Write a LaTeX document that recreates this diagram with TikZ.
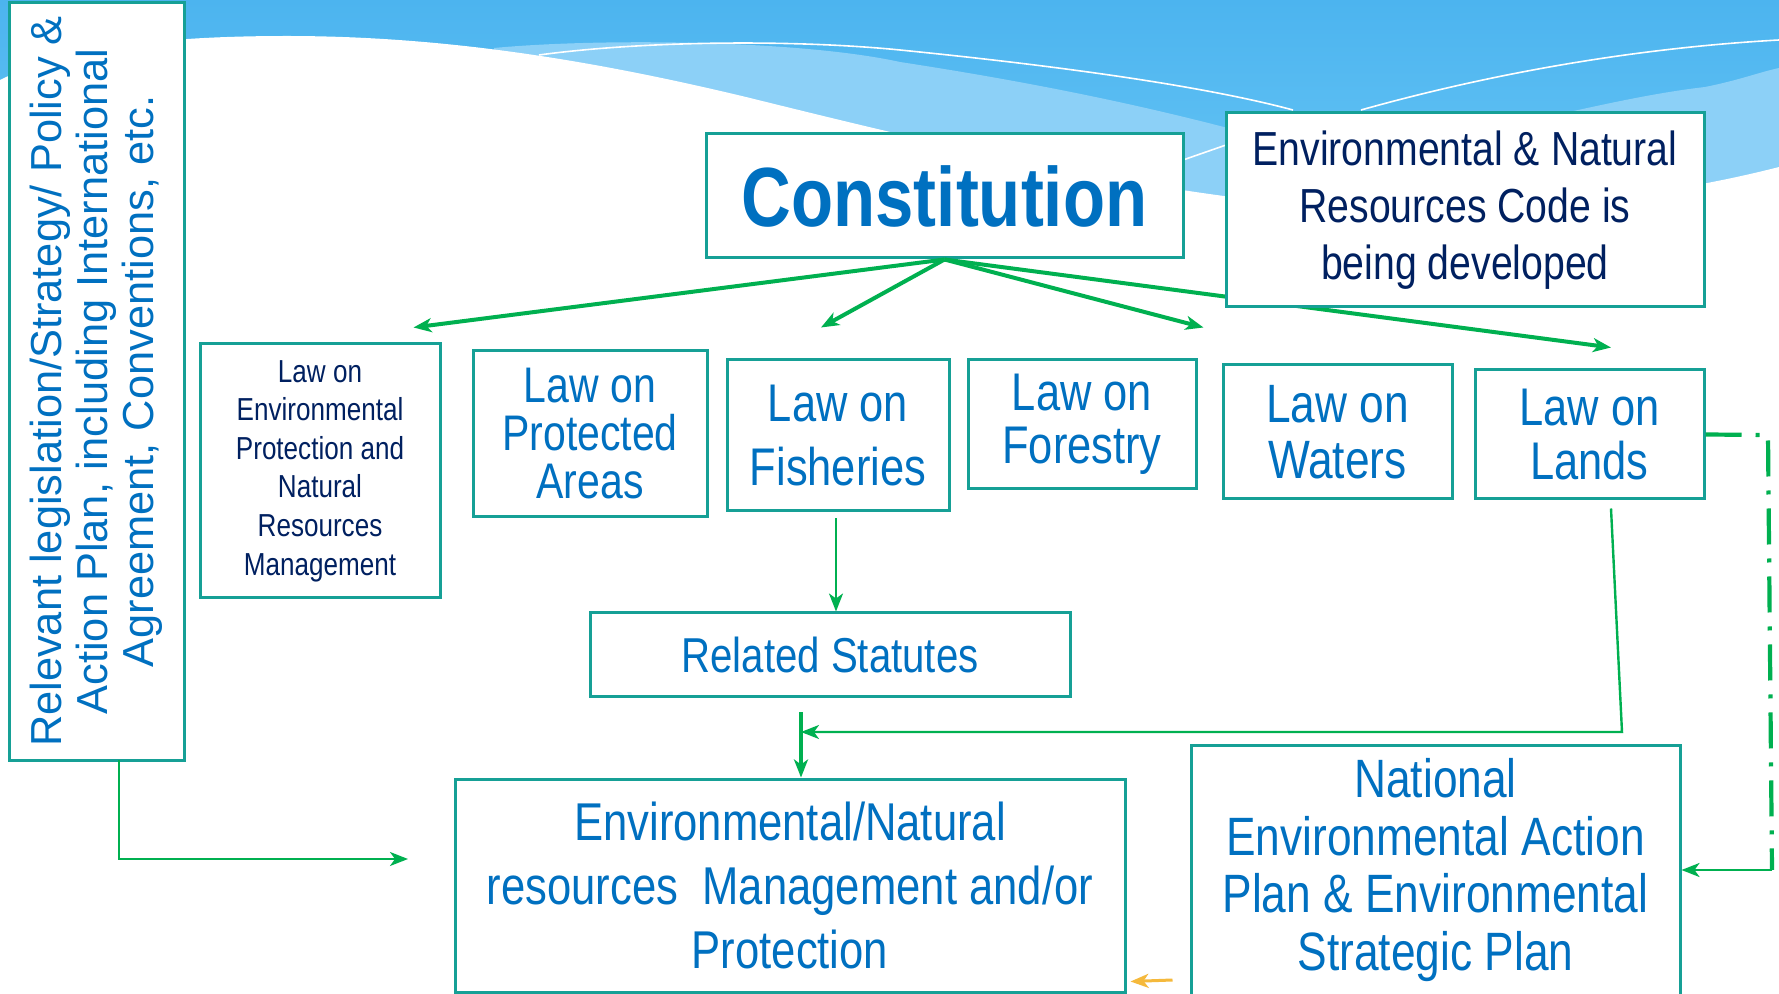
\documentclass[tikz,border=0pt]{standalone}
\usepackage{fontspec}
\setmainfont{Liberation Sans}
\newfontfamily\narrowsf[FakeStretch=0.82]{Liberation Sans}
\usepackage{xcolor}
\usetikzlibrary{arrows.meta}

\definecolor{boxteal}{RGB}{22,160,150}
\definecolor{txtblue}{RGB}{0,112,192}
\definecolor{navy}{RGB}{0,32,96}
\definecolor{arrgreen}{RGB}{0,176,80}
\definecolor{arrorange}{RGB}{245,185,60}
\definecolor{skytop}{RGB}{76,180,239}
\definecolor{skylow}{RGB}{104,198,246}
\definecolor{skylight}{RGB}{140,208,247}

\tikzset{
  lawbox/.style={draw=boxteal, line width=1.5pt, fill=white, align=center,
    text=txtblue, inner sep=0pt, font=\narrowsf},
  link/.style={arrgreen, line width=1.2pt, -{Stealth[length=9pt,width=7pt,inset=2.5pt]}},
}

\begin{document}
\begin{tikzpicture}[x=0.5pt, y=-0.5pt]
  \useasboundingbox (0,0) rectangle (1779,994);

  % sky and waves
  \shade[top color=skytop, bottom color=skylow] (0,0) rectangle (1779,240);
  \fill[skylight] (494,48) .. controls (600,38) and (800,40) .. (900,62)
    .. controls (1050,85) and (1150,108) .. (1224,127)
    .. controls (1400,175) and (1550,105) .. (1705,87)
    .. controls (1740,80) and (1760,72) .. (1779,68) -- (1779,240) -- (494,240) -- cycle;
  \fill[white] (0,80) .. controls (60,50) and (150,36) .. (287,36)
    .. controls (450,36) and (600,62) .. (746,97)
    .. controls (900,135) and (1100,185) .. (1300,205)
    .. controls (1500,215) and (1650,200) .. (1779,167) -- (1779,994) -- (0,994) -- cycle;
  \draw[white, line width=0.8pt] (539,55) .. controls (650,40) and (800,40) .. (900,50)
    .. controls (1050,65) and (1200,85) .. (1293,110);
  \draw[white, line width=0.8pt] (1361,110) .. controls (1450,85) and (1600,50) .. (1779,40);
  \draw[white, line width=0.8pt] (1226,145) -- (1183,160);

  \node[lawbox, rotate=90, minimum width=378.5pt, minimum height=87.5pt,
    font=\fontsize{21.7}{23}\selectfont] (policy) at (96.5,381.5)
    {Relevant legislation/Strategy/ Policy \&\\Action Plan, including International\\Agreement, Conventions, etc.};

  \node[lawbox, minimum width=238.5pt, minimum height=62pt,
    font=\narrowsf\bfseries\fontsize{42}{46}\selectfont] (const) at (944.5,196) {Constitution};

  \node[lawbox, text=navy, minimum width=120pt, minimum height=127pt,
    font=\narrowsf\fontsize{15.9}{19.3}\selectfont] (envprot) at (320,471)
    {Law on\\Environmental\\Protection and\\Natural\\Resources\\Management};
  \node[lawbox, minimum width=117pt, minimum height=83pt,
    font=\narrowsf\fontsize{25}{24}\selectfont] (protected) at (590,434) {Law on\\Protected\\Areas};
  \node[lawbox, minimum width=111pt, minimum height=75.5pt,
    font=\narrowsf\fontsize{26.5}{32}\selectfont] (fisheries) at (838,435.5) {Law on\\Fisheries};
  \node[lawbox, minimum width=114pt, minimum height=64.5pt,
    font=\narrowsf\fontsize{26.5}{26.5}\selectfont] (forestry) at (1082,424.5) {Law on\\Forestry};
  \node[lawbox, minimum width=114.5pt, minimum height=67pt,
    font=\narrowsf\fontsize{27}{28}\selectfont] (waters) at (1337.5,432) {Law on\\Waters};
  \node[lawbox, minimum width=114.5pt, minimum height=64.5pt,
    font=\narrowsf\fontsize{26.5}{27}\selectfont] (lands) at (1589.5,434.5) {Law on\\Lands};

  \node[lawbox, minimum width=240pt, minimum height=41.5pt,
    font=\narrowsf\fontsize{24.5}{28}\selectfont] (statutes) at (830,654.5) {Related Statutes};
  \node[lawbox, minimum width=335pt, minimum height=106.5pt,
    font=\narrowsf\fontsize{26.6}{32}\selectfont] (mgmt) at (790,885.5)
    {Environmental/Natural\\resources\ \ Management and/or\\Protection};
  \node[lawbox, minimum width=244.5pt, minimum height=125pt,
    font=\narrowsf\fontsize{27}{28.75}\selectfont] (neap) at (1435.5,870)
    {National\\Environmental Action\\Plan \& Environmental\\Strategic Plan};

  % constitution branches
  \draw[link, line width=2pt] (const.south) -- ([shift={(-28,-15)}]envprot.north east);
  \draw[link, line width=2pt] (const.south) -- ([shift={(-17,-31)}]fisheries.north);
  \draw[link, line width=2pt] (const.south) -- ([shift={(-18,-36)}]waters.north west);
  \draw[link, line width=2pt] (const.south) -- ([shift={(21.5,-21)}]lands.north);

  \node[lawbox, text=navy, minimum width=239pt, minimum height=97pt,
    font=\narrowsf\fontsize{23.9}{28.5}\selectfont] (code) at (1465,210)
    {Environmental \& Natural\\Resources Code is\\being developed};

  \coordinate (bend) at (1622,732);
  \coordinate (merge) at (801,732);
  \coordinate (join) at (801,712);
  \coordinate (policyfoot) at (119,760);
  \coordinate (mgmtin) at (408,859);
  \coordinate (loopc) at (1772,870);

  \draw[link] ([shift={(-2,6)}]fisheries.south) -- ([xshift=-1pt]fisheries.south |- statutes.north);
  \draw[link] ([shift={(21.5,8)}]lands.south) -- (bend) -- (merge);
  \draw[link, line width=2pt] (join) -- (merge |- mgmt.north);
  \draw[link] (policyfoot) |- (mgmtin);
  \draw[arrgreen, line width=2.1pt, dash pattern=on 18pt off 7pt on 2pt off 7pt]
    (lands.east) -- (1768,435) -- (loopc);
  \draw[link] (loopc) -- (neap.east);
  \draw[link, arrorange, line width=1.5pt] ([shift={(-17,110)}]neap.west) -- ([shift={(4,-12)}]mgmt.south east);
\end{tikzpicture}
\end{document}
